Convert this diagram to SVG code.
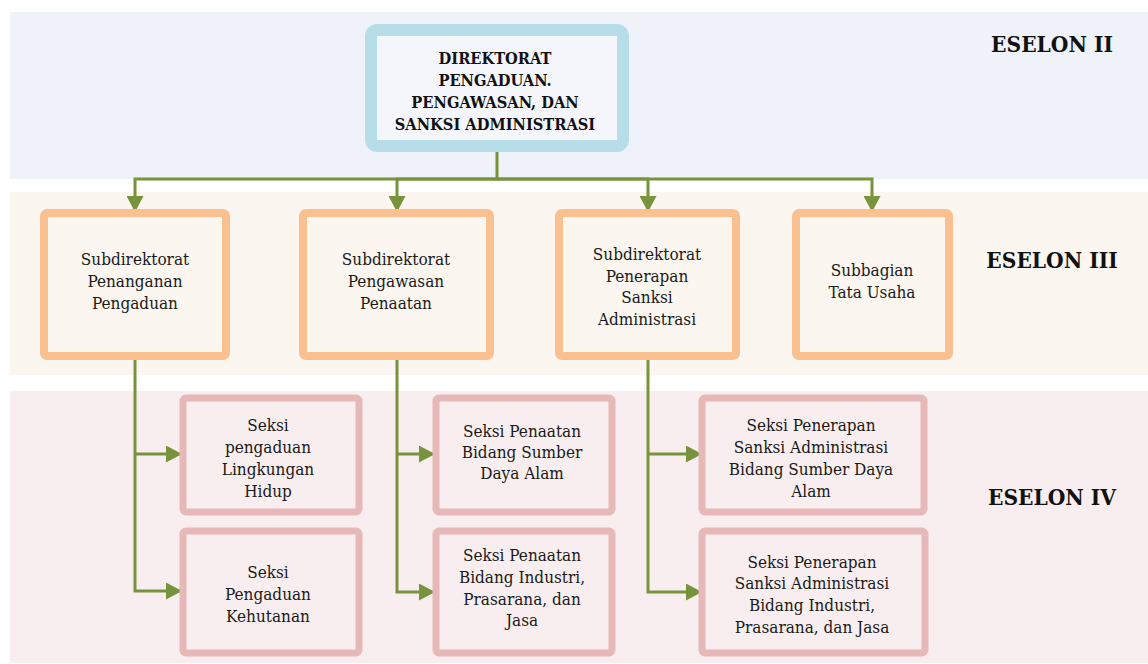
<svg xmlns="http://www.w3.org/2000/svg" width="1148" height="664" viewBox="0 0 1148 664">
<defs>
<marker id="arr" viewBox="0 0 10 10" refX="10" refY="5" markerWidth="16" markerHeight="17" markerUnits="userSpaceOnUse" orient="auto" preserveAspectRatio="none">
<path d="M0,0 L10,5 L0,10 z" fill="#77933c"/>
</marker>
<style>
.t{font-family:"DejaVu Serif Condensed","DejaVu Serif","Liberation Serif",serif;font-size:17px;fill:#1a1a1a;text-anchor:middle}
.b{font-family:"DejaVu Serif Condensed","DejaVu Serif","Liberation Serif",serif;font-weight:bold;fill:#111;text-anchor:middle}
.l3{fill:#fbf6f0;stroke:#fac08f;stroke-width:8}
.l4{fill:#f8eeef;stroke:#e6b8b7;stroke-width:7}
.c{fill:none;stroke:#77933c;stroke-width:3}
</style>
</defs>
<rect x="10" y="12" width="1138" height="167" fill="#eff3f9"/>
<rect x="10" y="192" width="1138" height="183" fill="#fbf6f0"/>
<rect x="10" y="391" width="1138" height="272" fill="#f8eeef"/>
<text class="b" x="1052" y="52" font-size="22.5">ESELON II</text>
<text class="b" x="1052" y="268" font-size="22.5">ESELON III</text>
<text class="b" x="1052" y="505" font-size="22.5">ESELON IV</text>
<g id="connectors">
<path class="c" d="M497,146 V179 H135 V212" marker-end="url(#arr)"/>
<path class="c" d="M497,179 H397 V212" marker-end="url(#arr)"/>
<path class="c" d="M497,179 H648 V212" marker-end="url(#arr)"/>
<path class="c" d="M497,179 H872 V212" marker-end="url(#arr)"/>
<path class="c" d="M135,356 V591 H182" marker-end="url(#arr)"/>
<path class="c" d="M135,454 H182" marker-end="url(#arr)"/>
<path class="c" d="M397,356 V592 H435" marker-end="url(#arr)"/>
<path class="c" d="M397,454 H435" marker-end="url(#arr)"/>
<path class="c" d="M648,356 V592 H702" marker-end="url(#arr)"/>
<path class="c" d="M648,454 H702" marker-end="url(#arr)"/>
</g>
<g id="direktorat">
<rect x="371" y="30" width="252" height="116" rx="6" fill="#f4f6fb" stroke="#b7dee8" stroke-width="12"/>
<text class="b" font-size="16.3" x="495"><tspan x="495" y="64">DIREKTORAT</tspan><tspan x="495" y="86">PENGADUAN.</tspan><tspan x="495" y="108">PENGAWASAN, DAN</tspan><tspan x="495" y="130">SANKSI ADMINISTRASI</tspan></text>
</g>
<g id="subdit-pengaduan">
<rect class="l3" x="44" y="213" width="182" height="143" rx="3"/>
<text class="t"><tspan x="135" y="265">Subdirektorat</tspan><tspan x="135" y="287">Penanganan</tspan><tspan x="135" y="309">Pengaduan</tspan></text>
</g>
<g id="subdit-pengawasan">
<rect class="l3" x="303" y="213" width="187" height="143" rx="3"/>
<text class="t"><tspan x="396" y="265">Subdirektorat</tspan><tspan x="396" y="287">Pengawasan</tspan><tspan x="396" y="309">Penaatan</tspan></text>
</g>
<g id="subdit-sanksi">
<rect class="l3" x="559" y="213" width="177" height="143" rx="3"/>
<text class="t"><tspan x="647" y="260">Subdirektorat</tspan><tspan x="647" y="282">Penerapan</tspan><tspan x="647" y="303">Sanksi</tspan><tspan x="647" y="325">Administrasi</tspan></text>
</g>
<g id="subbagian-tu">
<rect class="l3" x="796" y="213" width="153" height="143" rx="3"/>
<text class="t"><tspan x="872" y="276">Subbagian</tspan><tspan x="872" y="298">Tata Usaha</tspan></text>
</g>
<g id="seksi-lh">
<rect class="l4" x="183" y="398" width="176" height="114" rx="3"/>
<text class="t"><tspan x="268" y="431">Seksi</tspan><tspan x="268" y="453">pengaduan</tspan><tspan x="268" y="475">Lingkungan</tspan><tspan x="268" y="497">Hidup</tspan></text>
</g>
<g id="seksi-kehutanan">
<rect class="l4" x="183" y="531" width="176" height="122" rx="3"/>
<text class="t"><tspan x="268" y="578">Seksi</tspan><tspan x="268" y="600">Pengaduan</tspan><tspan x="268" y="622">Kehutanan</tspan></text>
</g>
<g id="seksi-penaatan-sda">
<rect class="l4" x="436" y="398" width="176" height="114" rx="3"/>
<text class="t"><tspan x="522" y="437">Seksi Penaatan</tspan><tspan x="522" y="458">Bidang Sumber</tspan><tspan x="522" y="479">Daya Alam</tspan></text>
</g>
<g id="seksi-penaatan-industri">
<rect class="l4" x="436" y="531" width="176" height="122" rx="3"/>
<text class="t"><tspan x="522" y="561">Seksi Penaatan</tspan><tspan x="522" y="583">Bidang Industri,</tspan><tspan x="522" y="605">Prasarana, dan</tspan><tspan x="522" y="626">Jasa</tspan></text>
</g>
<g id="seksi-sanksi-sda">
<rect class="l4" x="702" y="398" width="222" height="114" rx="3"/>
<text class="t"><tspan x="811" y="431">Seksi Penerapan</tspan><tspan x="811" y="453">Sanksi Administrasi</tspan><tspan x="811" y="475">Bidang Sumber Daya</tspan><tspan x="811" y="497">Alam</tspan></text>
</g>
<g id="seksi-sanksi-industri">
<rect class="l4" x="702" y="531" width="223" height="122" rx="3"/>
<text class="t"><tspan x="812" y="568">Seksi Penerapan</tspan><tspan x="812" y="589">Sanksi Administrasi</tspan><tspan x="812" y="611">Bidang Industri,</tspan><tspan x="812" y="633">Prasarana, dan Jasa</tspan></text>
</g>
</svg>
